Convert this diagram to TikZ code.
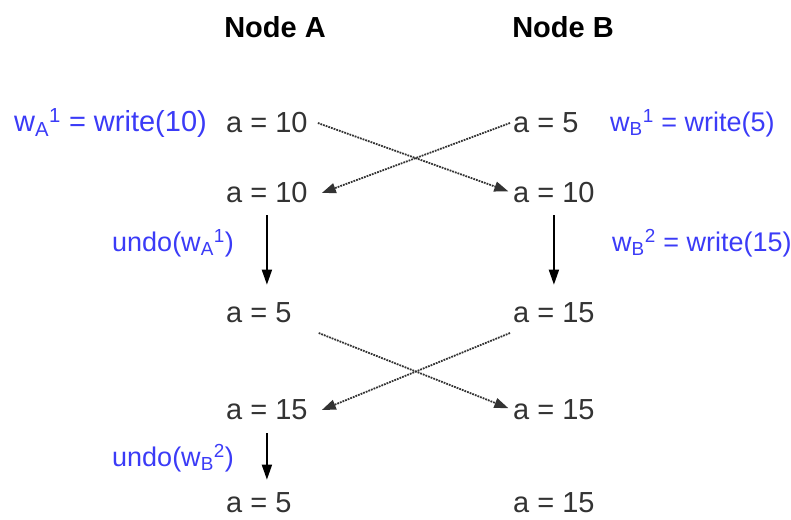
\documentclass[tikz,border=0pt]{standalone}
\usepackage{fontspec}
\setmainfont{Liberation Sans}
\usetikzlibrary{arrows.meta}
\definecolor{wblue}{HTML}{3B3BF7}
\definecolor{valgray}{HTML}{333333}

\begin{document}
\begin{tikzpicture}[x=1pt,y=-1pt,font=\fontsize{29}{34}\selectfont,
  val/.style={anchor=west,inner sep=0pt,text=valgray},
  op/.style={anchor=west,inner sep=0pt,text=wblue,font=\fontsize{27}{32}\selectfont},
  msg/.style={densely dotted,line width=1.8pt,draw=black!80,-{Triangle[length=14pt,width=10pt]}},
  stepline/.style={line width=1.8pt,-{Triangle[length=15pt,width=10pt]}}]
  \useasboundingbox (0,0) rectangle (791,519);
  % column heads
  \node[font=\fontsize{29}{34}\selectfont\bfseries] (headA) at (275,27) {Node A};
  \node[font=\fontsize{29}{34}\selectfont\bfseries] (headB) at (563,27) {Node B};
  % values on node A
  \node[val] (a1) at (226,123) {a = 10};
  \node[val] (a2) at (226,193) {a = 10};
  \node[val] (a3) at (226,313) {a = 5};
  \node[val] (a4) at (226,410) {a = 15};
  \node[val] (a5) at (226,503) {a = 5};
  % values on node B
  \node[val] (b1) at (513,123) {a = 5};
  \node[val] (b2) at (513,193) {a = 10};
  \node[val] (b3) at (513,313) {a = 15};
  \node[val] (b4) at (513,410) {a = 15};
  \node[val] (b5) at (513,503) {a = 15};
  % operations
  \node[op,font=\fontsize{29}{34}\selectfont] (wA1) at (14,123) {w\textsubscript{A}\textsuperscript{1} = write(10)};
  \node[op] (wB1) at (610,123) {w\textsubscript{B}\textsuperscript{1} = write(5)};
  \node[op] (uA1) at (112,243) {undo(w\textsubscript{A}\textsuperscript{1})};
  \node[op] (wB2) at (612,243) {w\textsubscript{B}\textsuperscript{2} = write(15)};
  \node[op] (uB2) at (112,458) {undo(w\textsubscript{B}\textsuperscript{2})};
  % replication
  \draw[msg,shorten >=5pt] ([xshift=10pt]a1.east) -- (b2.west);
  \draw[msg] ([xshift=-3pt]b1.west) -- ([xshift=14pt]a2.east);
  \draw[msg,shorten >=5pt] ([shift={(27pt,-20pt)}]a3.east) -- (b4.west);
  \draw[msg] ([shift={(-3pt,-20pt)}]b3.west) -- ([xshift=14pt]a4.east);
  % local steps
  \draw[stepline,shorten <=12pt,shorten >=18pt] (a2.south) -- (a2.south |- a3.north);
  \draw[stepline,shorten <=12pt,shorten >=18pt] (b2.south) -- (b2.south |- b3.north);
  \draw[stepline,shorten <=13pt,shorten >=13pt] (a4.south) -- (a4.south |- a5.north);
\end{tikzpicture}
\end{document}
